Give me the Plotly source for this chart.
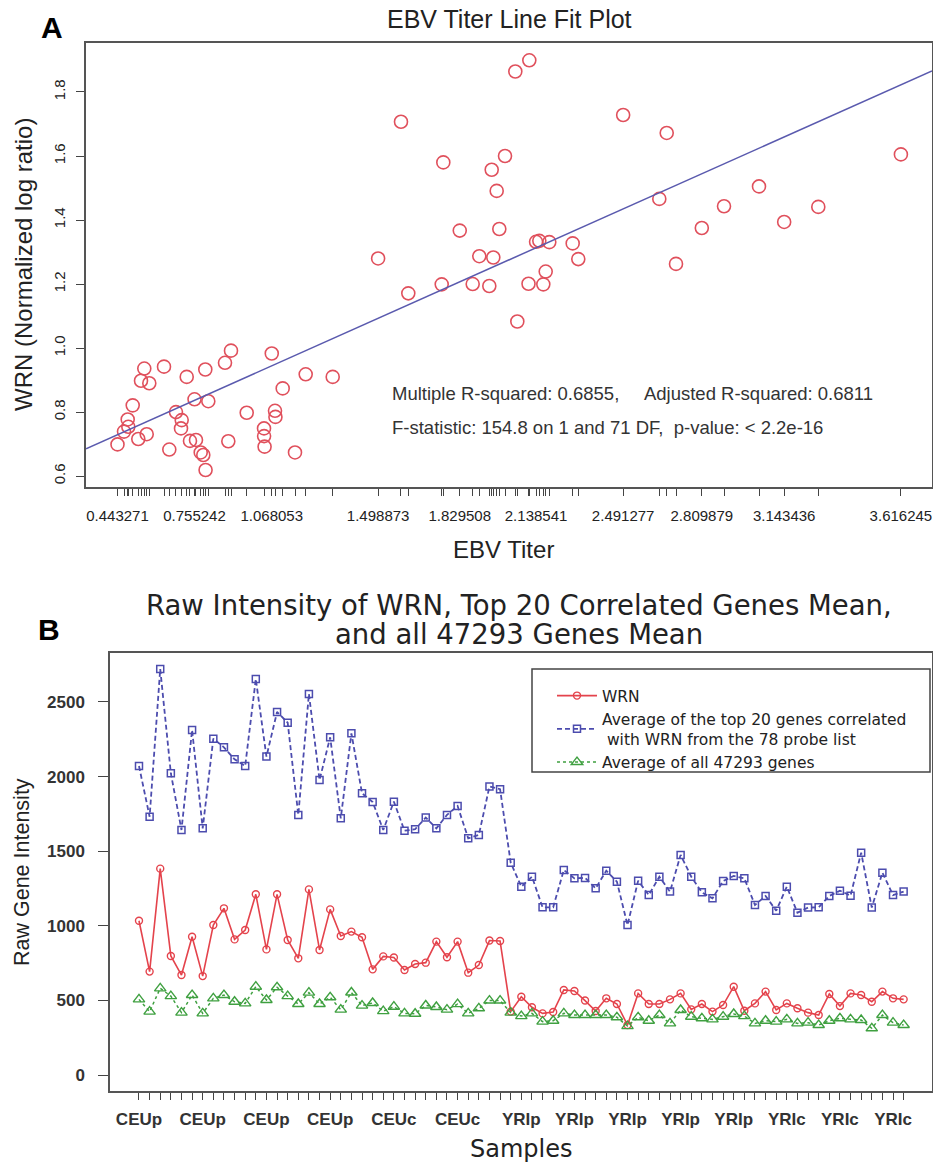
import numpy as np
import plotly.graph_objects as go

# ---------------- Panel A data ----------------
ebv_titer = [
    1.5915, 1.7629, 1.829508, 1.498873, 1.7564, 1.6211, 2.1112, 2.0545, 2.491277, 2.6677,
    3.616245, 2.0128, 1.9589, 1.9791, 1.9897, 2.6377, 3.0415, 2.8998, 3.2817, 3.143436,
    2.809879, 2.138541, 2.1517, 2.1922, 2.2869, 2.3096, 1.9087, 1.9654, 2.7054, 2.1776,
    1.8819, 1.9492, 2.1080, 2.1679, 2.0626,
    0.9030, 1.068053, 0.8787, 0.6316, 0.5518, 0.7989, 0.7236, 1.2055, 1.3149, 0.5385,
    0.5721, 1.1124, 0.755242, 0.8111, 0.5049, 0.6802, 0.9666, 1.0812, 1.0830, 0.4846,
    0.7033, 0.4870, 0.4696, 0.7005, 1.0367, 1.0370, 0.5616, 0.5275, 0.443271, 0.7369,
    0.7612, 0.8921, 1.0390, 0.6531, 0.7803, 0.7908, 1.1622, 0.8000,
]
wrn_ratio = [
    1.707, 1.580, 1.367, 1.280, 1.199, 1.171, 1.899, 1.864, 1.728, 1.672,
    1.605, 1.600, 1.557, 1.491, 1.372, 1.466, 1.505, 1.443, 1.441, 1.394,
    1.375, 1.332, 1.335, 1.331, 1.327, 1.278, 1.287, 1.283, 1.263, 1.239,
    1.200, 1.194, 1.201, 1.199, 1.083,
    0.992, 0.983, 0.954, 0.942, 0.936, 0.933, 0.910, 0.918, 0.910, 0.898,
    0.890, 0.874, 0.840, 0.834, 0.821, 0.800, 0.798, 0.804, 0.785, 0.777,
    0.775, 0.754, 0.739, 0.749, 0.749, 0.725, 0.731, 0.716, 0.699, 0.710,
    0.713, 0.709, 0.692, 0.683, 0.674, 0.666, 0.674, 0.619,
]
labeled_titers = ["0.443271", "0.755242", "1.068053", "1.498873", "1.829508",
                  "2.138541", "2.491277", "2.809879", "3.143436", "3.616245"]
a_yticks = [0.6, 0.8, 1.0, 1.2, 1.4, 1.6, 1.8]
stats_line1 = "Multiple R-squared: 0.6855,     Adjusted R-squared: 0.6811"
stats_line2 = "F-statistic: 154.8 on 1 and 71 DF,  p-value: < 2.2e-16"

# ---------------- Panel B data ----------------
samples = ["CEUp"] * 21 + ["CEUc"] * 14 + ["YRIp"] * 24 + ["YRIc"] * 14
shown_label_idx = [0, 6, 12, 18, 24, 30, 36, 41, 46, 51, 56, 61, 66, 71]
wrn_raw = [
    1034, 693, 1383, 798, 670, 927, 663, 1005, 1117, 909,
    972, 1211, 842, 1211, 905, 782, 1244, 838, 1110, 932,
    961, 923, 708, 795, 788, 704, 744, 753, 894, 789,
    894, 686, 737, 901, 898, 425, 525, 454, 413, 422,
    570, 563, 499, 429, 514, 476, 335, 547, 476, 476,
    507, 547, 440, 476, 425, 469, 592, 431, 480, 559,
    436, 480, 447, 418, 402, 543, 462, 547, 536, 491,
    559, 514, 507,
]
top20_mean = [
    2071, 1731, 2721, 2022, 1642, 2312, 1653, 2254, 2196, 2116,
    2071, 2654, 2134, 2433, 2361, 1743, 2554, 1977, 2263, 1720,
    2290, 1888, 1830, 1642, 1832, 1637, 1647, 1725, 1653, 1743,
    1803, 1586, 1609, 1933, 1915, 1423, 1262, 1329, 1124, 1124,
    1374, 1318, 1321, 1251, 1369, 1296, 1005, 1302, 1206, 1329,
    1229, 1475, 1329, 1224, 1184, 1300, 1334, 1318, 1139, 1200,
    1101, 1262, 1088, 1122, 1124, 1200, 1235, 1202, 1490, 1122,
    1356, 1206, 1229,
]
all_mean = [
    507, 425, 581, 529, 418, 536, 413, 514, 536, 491,
    480, 592, 503, 588, 529, 476, 552, 476, 521, 438,
    553, 465, 483, 428, 458, 413, 411, 466, 456, 438,
    475, 413, 447, 499, 499, 418, 395, 413, 358, 364,
    413, 402, 402, 402, 402, 387, 328, 387, 364, 402,
    346, 436, 391, 380, 373, 391, 409, 395, 346, 364,
    358, 373, 346, 351, 335, 364, 380, 373, 369, 313,
    402, 351, 335,
]
b_yticks = [0, 500, 1000, 1500, 2000, 2500]
legend_names = ["WRN",
                "Average of the top 20 genes correlated<br> with WRN from the 78 probe list",
                "Average of all 47293 genes"]

# ---------------- geometry helpers (pixel -> paper) ----------------
W, H = 933, 1162
def px(x):
    return x / W
def py(y):
    return 1 - y / H

FONT = "Liberation Sans, Arial, sans-serif"
WIDE = "DejaVu Sans, Liberation Sans, sans-serif"
RED = "#E4434C"
BLUE = "#4C4CAE"
GREEN = "#3FA040"

fig = go.Figure()

# Panel A scatter
fig.add_trace(go.Scatter(
    x=ebv_titer, y=wrn_ratio, mode="markers", xaxis="x", yaxis="y",
    marker=dict(symbol="circle-open", size=13, color="#E0505C", line=dict(width=1.6)),
    showlegend=False, hoverinfo="x+y"))

# regression line across the plotting range
a_xrange = [0.3157, 3.7422]
coef = np.polyfit(np.array(ebv_titer), np.array(wrn_ratio), 1)
fit_y = list(np.polyval(coef, a_xrange))
fig.add_trace(go.Scatter(
    x=a_xrange, y=fit_y, mode="lines", xaxis="x", yaxis="y",
    line=dict(color="#5A5AAE", width=1.5), showlegend=False, hoverinfo="skip"))

# Panel B lines
xs = list(range(len(samples)))
fig.add_trace(go.Scatter(
    x=xs, y=wrn_raw, mode="lines+markers", xaxis="x2", yaxis="y2", name=legend_names[0],
    line=dict(color=RED, width=1.6),
    marker=dict(symbol="circle-open", size=7, color=RED, line=dict(width=1.4))))
fig.add_trace(go.Scatter(
    x=xs, y=top20_mean, mode="lines+markers", xaxis="x2", yaxis="y2", name=legend_names[1],
    line=dict(color=BLUE, width=1.8, dash="5px,3px"),
    marker=dict(symbol="square-open", size=7, color=BLUE, line=dict(width=1.5))))
fig.add_trace(go.Scatter(
    x=xs, y=all_mean, mode="lines+markers", xaxis="x2", yaxis="y2", name=legend_names[2],
    line=dict(color=GREEN, width=1.5, dash="dot"),
    marker=dict(symbol="triangle-up-open", size=10, color=GREEN, line=dict(width=1.4))))

# tick text for panel A: all data positions get a tick, some get labels
a_tickvals = sorted(ebv_titer)
a_ticktext = []
for v in a_tickvals:
    s = "%.6f" % v
    a_ticktext.append(s if s in labeled_titers else "")

b_ticktext = [samples[i] if i in shown_label_idx else "" for i in xs]

axis_common = dict(showline=True, mirror=True, linecolor="#555555", linewidth=1.5,
                   showgrid=False, zeroline=False, ticks="outside", tickcolor="#444444",
                   tickwidth=1.2)

fig.update_layout(
    width=W, height=H, margin=dict(l=0, r=0, t=0, b=0),
    paper_bgcolor="white", plot_bgcolor="white",
    font=dict(family=FONT, color="#222222"),
    xaxis=dict(domain=[px(86), px(932)], anchor="y", range=a_xrange,
               tickmode="array", tickvals=a_tickvals, ticktext=a_ticktext,
               ticklen=7, tickangle=0, ticklabelstandoff=7,
               tickfont=dict(size=15, family=FONT, color="#222222"), **axis_common),
    yaxis=dict(domain=[py(487), py(43)], anchor="x", range=[0.566, 1.953],
               tickmode="array", tickvals=a_yticks, ticktext=["%.1f" % t for t in a_yticks],
               ticklen=8, tickangle=-90, ticklabelstandoff=5,
               tickfont=dict(size=15, family=FONT, color="#222222"), **axis_common),
    xaxis2=dict(domain=[px(110), px(932)], anchor="y2", range=[-2.73, 74.67],
                tickmode="array", tickvals=xs, ticktext=b_ticktext,
                ticklen=7, tickangle=0, ticklabelstandoff=5,
                tickfont=dict(size=17, family=FONT, color="#333333", weight="bold"),
                **axis_common),
    yaxis2=dict(domain=[py(1091), py(653)], anchor="x2", range=[-107, 2828],
                tickmode="array", tickvals=b_yticks, ticktext=[str(t) for t in b_yticks],
                ticklen=10, ticklabelstandoff=10,
                tickfont=dict(size=17, family=FONT, color="#333333", weight="bold"),
                **axis_common),
    legend=dict(x=px(552), y=py(679), xanchor="left", yanchor="top",
                bgcolor="rgba(0,0,0,0)", borderwidth=0,
                font=dict(size=15.5, family=WIDE, color="#222222"),
                itemwidth=40, tracegroupgap=0),
    showlegend=True,
)

# legend frame
fig.add_shape(type="rect", xref="paper", yref="paper",
              x0=px(532), x1=px(930), y0=py(772), y1=py(669),
              line=dict(color="#444444", width=1.5))

def ann(text, x, y, size, bold=False, angle=0, xanchor="center", color="#222222", family=FONT):
    fig.add_annotation(text=("<b>%s</b>" % text) if bold else text,
                       x=px(x), y=py(y), xref="paper", yref="paper",
                       xanchor=xanchor, yanchor="middle", textangle=angle,
                       showarrow=False, font=dict(size=size, family=family, color=color))

ann("A", 52, 27, 30, bold=True, color="#000000")
ann("B", 49, 629, 30, bold=True, color="#000000")
ann("EBV Titer Line Fit Plot", 509, 19, 25)
ann("EBV Titer", 503, 549, 24)
ann("WRN (Normalized log ratio)", 23, 265, 24, angle=-90)
ann(stats_line1, 390, 393, 18.5, xanchor="left", color="#333333")
ann(stats_line2, 390, 427, 18.5, xanchor="left", color="#333333")
ann("Raw Intensity of WRN, Top 20 Correlated Genes Mean,", 519, 605, 27.5, family=WIDE)
ann("and all 47293 Genes Mean", 519, 634, 27.5, family=WIDE)
ann("Raw Gene Intensity", 22, 872, 21.5, angle=-90)
ann("Samples", 521, 1149, 24, family=WIDE)

fig.write_html("out.html", config={"displayModeBar": False},
               post_script="document.body.style.margin='0px';")
